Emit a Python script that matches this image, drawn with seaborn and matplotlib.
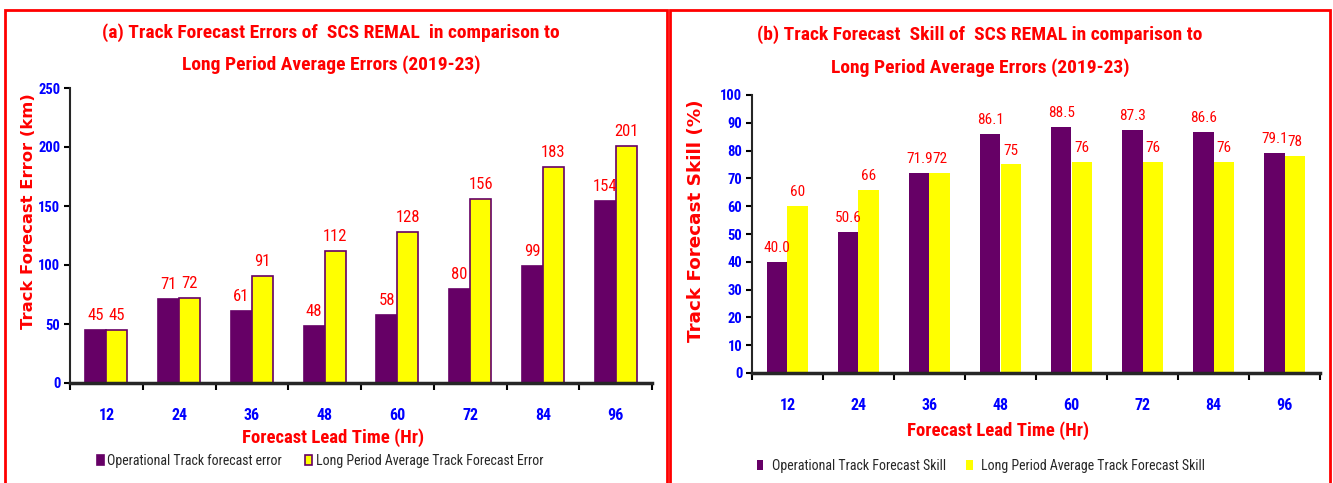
import pandas as pd
import numpy as np
import matplotlib
matplotlib.use("Agg")
import matplotlib.pyplot as plt
from matplotlib.patches import Rectangle
import seaborn as sns

lead_times = ["12", "24", "36", "48", "60", "72", "84", "96"]

oper_error = [45, 71, 61, 48, 58, 80, 99, 154]
lpa_error = [45, 72, 91, 112, 128, 156, 183, 201]

oper_skill = [40.0, 50.6, 71.9, 86.1, 88.5, 87.3, 86.6, 79.1]
lpa_skill = [60, 66, 72, 75, 76, 76, 76, 78]

sns.set_style("white")
plt.rcParams['font.family'] = ['Roboto Condensed', 'Carlito', 'DejaVu Sans']

purple = "#660066"
yellow = "#FFFF00"
red = "#FF0000"
blue = "#0000FF"

W, H = 1333, 483
fig = plt.figure(figsize=(13.33, 4.83), dpi=100)

# red frames round each panel
fig.patches.append(Rectangle((5 / W, -0.02), 662 / W, 1 - 10 / H + 0.02,
                             transform=fig.transFigure, fill=False, edgecolor=red, lw=2))
fig.patches.append(Rectangle((670 / W, -0.02), 660 / W, 1 - 10 / H + 0.02,
                             transform=fig.transFigure, fill=False, edgecolor=red, lw=2))

ax1 = fig.add_axes([70 / W, 1 - 383 / H, 582 / W, 295 / H])
ax2 = fig.add_axes([752 / W, 1 - 373 / H, 568 / W, 278 / H])


def draw_panel(ax, s1, s2, names, ymax, step, ylabel, fmt1, fmt2, edge,
               ylab_pos, ylab_size, xlab_pos, val_size):
    df = pd.DataFrame({
        "lead": lead_times * 2,
        "value": s1 + s2,
        "series": [names[0]] * len(s1) + [names[1]] * len(s2),
    })
    sns.barplot(data=df, x="lead", y="value", hue="series", ax=ax,
                palette=[purple, yellow], width=0.58, saturation=1,
                edgecolor=edge if edge else "none", linewidth=1.2 if edge else 0)
    for cont, fmt in zip(ax.containers, [fmt1, fmt2]):
        ax.bar_label(cont, fmt=fmt, color=red, fontsize=val_size, padding=5)
    ax.set_ylim(0, ymax)
    ax.set_yticks(np.arange(0, ymax + 1, step))
    ax.set_xlim(-0.5, len(lead_times) - 0.5)
    for sp in ["top", "right"]:
        ax.spines[sp].set_visible(False)
    ax.spines["left"].set_linewidth(1.5)
    ax.spines["bottom"].set_linewidth(2.5)
    ax.tick_params(axis="y", labelcolor=blue, length=4, width=1.5,
                   labelsize=10.5, left=True, color="black", pad=3)
    ax.tick_params(axis="x", which="major", length=0, pad=18, labelcolor=blue, labelsize=11.5)
    ax.set_xticks(np.arange(-0.5, len(lead_times)), minor=True)
    ax.tick_params(axis="x", which="minor", length=5, width=1.5, color="black", bottom=True)
    ax.set_xlabel("Forecast Lead Time (Hr)", color=red, fontsize=13.5, fontweight="bold")
    ax.xaxis.set_label_coords(*xlab_pos)
    ax.set_ylabel(ylabel, color=red, fontsize=ylab_size, fontweight="bold", family="DejaVu Sans")
    ax.yaxis.set_label_coords(*ylab_pos)
    for t in ax.get_xticklabels() + ax.get_yticklabels():
        t.set_fontweight("bold")
    ax.get_legend().remove()


draw_panel(ax1, oper_error, lpa_error,
           ["Operational Track forecast error", "Long Period Average Track Forecast Error"],
           250, 50, "Track Forecast Error (km)", "%d", "%d", purple,
           (-34 / 582, 0.583), 11.8, ((333 - 70) / 582, -(428 - 383) / 295), 12)
draw_panel(ax2, oper_skill, lpa_skill,
           ["Operational Track Forecast Skill", "Long Period Average Track Forecast Skill"],
           100, 10, "Track Forecast Skill (%)", "%.1f", "%d", None,
           (-47 / 568, 0.547), 13.2, ((998 - 752) / 568, -(421 - 373) / 278), 11)

h, l = ax1.get_legend_handles_labels()
fig.legend(h, l, loc="center", bbox_to_anchor=(320 / W, 1 - 461 / H), ncol=2,
           frameon=False, handlelength=0.5, handleheight=0.8,
           columnspacing=1.7, handletextpad=0.25, prop={"size": 10})
h, l = ax2.get_legend_handles_labels()
fig.legend(h, l, loc="center", bbox_to_anchor=(981 / W, 1 - 466 / H), ncol=2,
           frameon=False, handlelength=0.45, handleheight=0.7,
           columnspacing=1.5, handletextpad=0.6, prop={"size": 10})

title_kw = dict(ha="center", va="center", color=red, fontsize=14, fontweight="bold")
fig.text(331 / W, 1 - 33 / H,
         "(a) Track Forecast Errors of  SCS REMAL  in comparison to", **title_kw)
fig.text(331 / W, 1 - 65 / H, "Long Period Average Errors (2019-23)", **title_kw)
fig.text(980 / W, 1 - 35 / H,
         "(b) Track Forecast  Skill of  SCS REMAL in comparison to", **title_kw)
fig.text(980 / W, 1 - 68 / H, "Long Period Average Errors (2019-23)", **title_kw)

fig.savefig("out.png", dpi=100)
